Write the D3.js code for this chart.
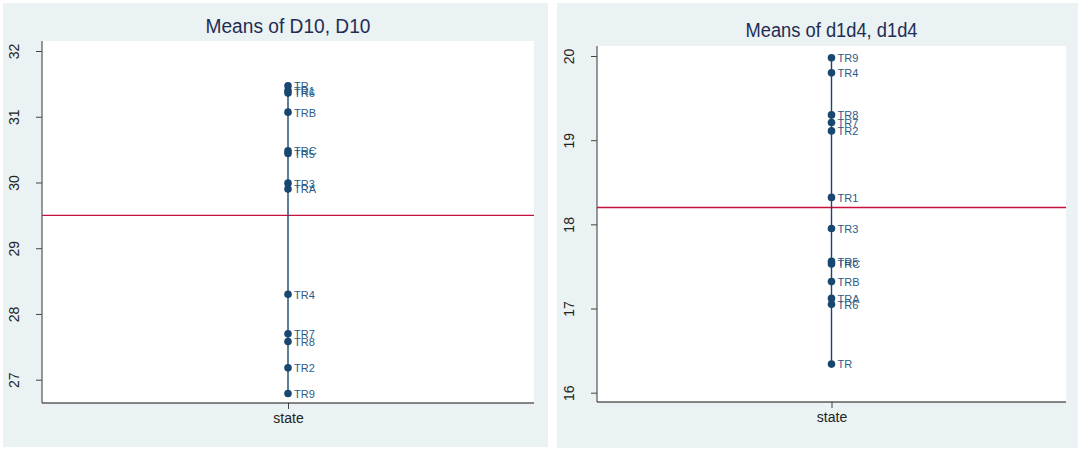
<!DOCTYPE html>
<html>
<head>
<meta charset="utf-8">
<script src="https://cdn.jsdelivr.net/npm/d3@7"></script>
<style>
  body { margin: 0; background: #ffffff; }
  svg { display: block; font-family: "Liberation Sans", Arial, sans-serif; }
</style>
</head>
<body>
<div id="chart"></div>
<script>
// Datos
const leftTitle = 'Means of D10, D10';
const leftCats = ['TR', 'TR1', 'TR6', 'TRB', 'TRC', 'TR5', 'TR3', 'TRA', 'TR4', 'TR7', 'TR8', 'TR2', 'TR9'];
const leftMeans = [31.47, 31.40, 31.36, 31.07, 30.48, 30.44, 29.99, 29.90, 28.30, 27.70, 27.58, 27.18, 26.79];
const leftOverall = 29.50;
const leftTicks = [27, 28, 29, 30, 31, 32];

const rightTitle = 'Means of d1d4, d1d4';
const rightCats = ['TR9', 'TR4', 'TR8', 'TR7', 'TR2', 'TR1', 'TR3', 'TR5', 'TRC', 'TRB', 'TRA', 'TR6', 'TR'];
const rightMeans = [19.98, 19.80, 19.30, 19.21, 19.11, 18.32, 17.95, 17.56, 17.53, 17.32, 17.12, 17.05, 16.34];
const rightOverall = 18.20;
const rightTicks = [16, 17, 18, 19, 20];

const xCats = ['state'];

//Colores fijos
const COLOR_BG = '#eaf2f3',
COLOR_MARK = '#1a476f',
COLOR_LABEL = '#2c5a86',
COLOR_MEAN = '#c8103c',
COLOR_TITLE = '#1f2d54';

const W = 1078, H = 450;

let svg = d3.select('#chart')
    .append('svg')
    .attr('width', W)
    .attr('height', H);

function drawPanel(p) {
    let g = svg.append('g');

    //Fondo del panel
    g.append('rect')
        .attr('x', p.bx).attr('y', p.by)
        .attr('width', p.bw).attr('height', p.bh)
        .attr('fill', COLOR_BG);

    //Área del gráfico
    g.append('rect')
        .attr('x', p.left).attr('y', p.top)
        .attr('width', p.right - p.left).attr('height', p.bottom - p.top)
        .attr('fill', '#ffffff');

    let y = d3.scaleLinear()
        .domain([p.ticks[0], p.ticks[p.ticks.length - 1]])
        .range([p.y0, p.y1]);

    let x = d3.scalePoint()
        .domain(xCats)
        .range([p.left, p.right])
        .padding(0.5);

    //Título
    g.append('text')
        .attr('x', (p.left + p.right) / 2)
        .attr('y', p.titleY)
        .attr('text-anchor', 'middle')
        .attr('font-size', 20)
        .attr('textLength', p.titleLen)
        .attr('lengthAdjust', 'spacingAndGlyphs')
        .attr('fill', COLOR_TITLE)
        .text(p.title);

    //Línea de la media global
    g.append('line')
        .attr('x1', p.left).attr('x2', p.right)
        .attr('y1', y(p.overall)).attr('y2', y(p.overall))
        .attr('stroke', COLOR_MEAN)
        .attr('stroke-width', 1.4);

    //Eje Y
    let yAxis = g.append('g')
        .attr('transform', 'translate(' + p.left + ',0)')
        .call(d3.axisLeft(y).tickValues(p.ticks).tickSize(6).tickFormat(d3.format('d')));
    yAxis.select('.domain').remove();
    yAxis.selectAll('.tick line').attr('stroke', '#444');
    yAxis.selectAll('.tick text')
        .attr('font-size', 14)
        .attr('fill', '#222')
        .attr('transform', 'rotate(-90)')
        .attr('x', 0)
        .attr('y', -23)
        .attr('dy', 0)
        .attr('text-anchor', 'middle');
    g.append('line')
        .attr('x1', p.left).attr('x2', p.left)
        .attr('y1', p.top).attr('y2', p.bottom)
        .attr('stroke', '#555').attr('stroke-width', 1.2);

    //Eje X
    let xAxis = g.append('g')
        .attr('transform', 'translate(0,' + p.bottom + ')')
        .call(d3.axisBottom(x).tickSize(6).tickPadding(4));
    xAxis.select('.domain').remove();
    xAxis.selectAll('.tick line').attr('stroke', '#444');
    xAxis.selectAll('.tick text').attr('font-size', 14).attr('fill', '#222');
    g.append('line')
        .attr('x1', p.left).attr('x2', p.right)
        .attr('y1', p.bottom).attr('y2', p.bottom)
        .attr('stroke', '#111').attr('stroke-width', 1.2);

    //Línea vertical entre mínimo y máximo
    let cx = x('state');
    g.append('line')
        .attr('x1', cx).attr('x2', cx)
        .attr('y1', y(d3.max(p.means))).attr('y2', y(d3.min(p.means)))
        .attr('stroke', COLOR_MARK)
        .attr('stroke-width', 1.4);

    let data = p.cats.map(function(c, i) { return {cat: c, value: p.means[i]}; });

    g.selectAll('circle.pt')
        .data(data)
        .enter()
        .append('circle')
        .attr('class', 'pt')
        .attr('cx', cx)
        .attr('cy', function(d) { return y(d.value); })
        .attr('r', 3.8)
        .attr('fill', COLOR_MARK);

    g.selectAll('text.lbl')
        .data(data)
        .enter()
        .append('text')
        .attr('class', 'lbl')
        .attr('x', cx + 6)
        .attr('y', function(d) { return y(d.value); })
        .attr('dy', '0.4em')
        .attr('font-size', 11)
        .attr('fill', COLOR_LABEL)
        .text(function(d) { return d.cat; });
}

drawPanel({
    bx: 3, by: 3, bw: 545, bh: 444,
    left: 42, right: 534, top: 41, bottom: 403,
    y0: 379.7, y1: 51,
    titleY: 33, titleLen: 165,
    title: leftTitle, cats: leftCats, means: leftMeans, overall: leftOverall, ticks: leftTicks
});

drawPanel({
    bx: 557, by: 3, bw: 521, bh: 445,
    left: 597, right: 1066, top: 46, bottom: 402,
    y0: 392.7, y1: 56,
    titleY: 37, titleLen: 172,
    title: rightTitle, cats: rightCats, means: rightMeans, overall: rightOverall, ticks: rightTicks
});
</script>
</body>
</html>
